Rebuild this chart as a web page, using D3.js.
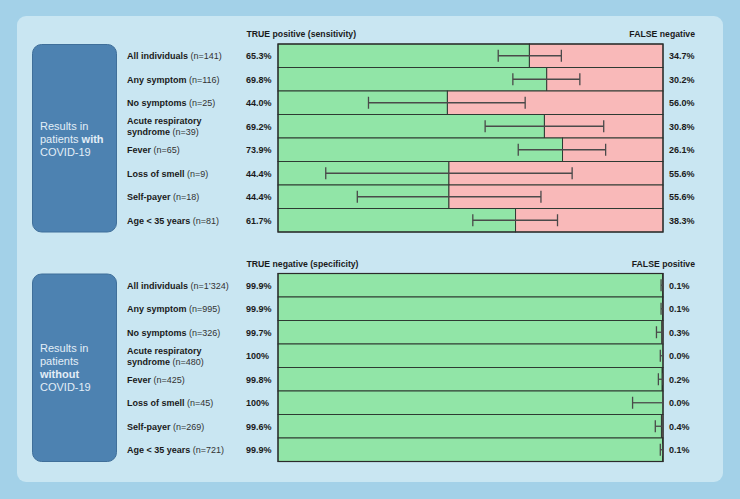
<!DOCTYPE html>
<html><head><meta charset="utf-8">
<script src="https://cdn.jsdelivr.net/npm/d3@7"></script>
<style>
html,body{margin:0;padding:0;background:#a3d1e8;}
svg{display:block;font-family:"Liberation Sans",Arial,Helvetica,sans-serif;}
</style></head>
<body><svg id="chart" width="740" height="499"></svg>
<script>
// ---- data ----
const categories = ["All individuals", "Any symptom", "No symptoms", "Acute respiratory syndrome", "Fever", "Loss of smell", "Self-payer", "Age < 35 years"];
const nWith = ["141", "116", "25", "39", "65", "9", "18", "81"];
const sensitivity = [65.3, 69.8, 44.0, 69.2, 73.9, 44.4, 44.4, 61.7];
const sensLow = [57.2, 61.0, 23.5, 53.8, 62.4, 12.4, 20.6, 50.6];
const sensHigh = [73.6, 78.4, 64.2, 84.6, 85.1, 76.4, 68.3, 72.6];
const falseNeg = ["34.7%", "30.2%", "56.0%", "30.8%", "26.1%", "55.6%", "55.6%", "38.3%"];
const sensLabels = ["65.3%", "69.8%", "44.0%", "69.2%", "73.9%", "44.4%", "44.4%", "61.7%"];

const nWithout = ["1\u2019324", "995", "326", "480", "425", "45", "269", "721"];
const specificity = [99.9, 99.9, 99.7, 100, 99.8, 100, 99.6, 99.9];
const specLow = [99.5, 99.5, 98.3, 99.3, 98.8, 92.1, 98.0, 99.3];
const specHigh = [100, 100, 100, 100, 100, 100, 99.9, 100];
const specLabels = ["99.9%", "99.9%", "99.7%", "100%", "99.8%", "100%", "99.6%", "99.9%"];
const falsePos = ["0.1%", "0.1%", "0.3%", "0.0%", "0.2%", "0.0%", "0.4%", "0.1%"];

const svg = d3.select("#chart");

// background panel
svg.append("rect").attr("x", 17).attr("y", 16).attr("width", 706).attr("height", 466)
  .attr("rx", 9).attr("fill", "#c9e6f2");

const x = d3.scaleLinear().domain([0, 100]).range([278, 663]);
const LABEL_FS = 9;

function drawSection(cfg) {
  const y = d3.scaleBand().domain(categories).range([cfg.top, cfg.top + 188]);
  const g = svg.append("g");

  // side box
  g.append("rect").attr("x", 32.5).attr("y", cfg.top + 0.5).attr("width", 84).attr("height", 187.5)
    .attr("rx", 9).attr("fill", "#4d82b1").attr("stroke", "#3f6f9a").attr("stroke-width", 1);
  cfg.boxLines.forEach((ln, i) => {
    const t = g.append("text").attr("x", 40).attr("y", cfg.boxY + i * 13)
      .attr("fill", "#e3eef7").attr("font-size", 11);
    ln.forEach(seg => t.append("tspan").attr("font-weight", seg[1] ? "bold" : "normal").text(seg[0]));
  });

  // headers
  g.append("text").attr("x", 246.5).attr("y", cfg.top - 7).attr("font-size", 8.7).attr("font-weight", "bold")
    .attr("fill", "#1a1a1a").text(cfg.leftHeader);
  g.append("text").attr("x", 695).attr("y", cfg.top - 7).attr("font-size", 8.7).attr("font-weight", "bold")
    .attr("text-anchor", "end").attr("fill", "#1a1a1a").text(cfg.rightHeader);

  categories.forEach((c, i) => {
    const y0 = y(c), h = y.bandwidth();
    const v = cfg.values[i];
    g.append("rect").attr("x", x(0)).attr("y", y0).attr("width", x(v) - x(0)).attr("height", h)
      .attr("fill", "#91e5a7").attr("stroke", "#2e3a33").attr("stroke-width", 1);
    if (v < 100) {
      g.append("rect").attr("x", x(v)).attr("y", y0).attr("width", x(100) - x(v)).attr("height", h)
        .attr("fill", "#f9b9b9").attr("stroke", "#2e3a33").attr("stroke-width", 1);
    }
  });
  g.append("rect").attr("x", x(0)).attr("y", cfg.top).attr("width", x(100) - x(0)).attr("height", 188)
    .attr("fill", "none").attr("stroke", "#2b2b2b").attr("stroke-width", 1.2);

  categories.forEach((c, i) => {
    const y0 = y(c), h = y.bandwidth(), cy = y0 + h / 2;
    const lo = x(cfg.low[i]), hi = x(cfg.high[i]);
    g.append("line").attr("x1", lo).attr("x2", hi).attr("y1", cy).attr("y2", cy)
      .attr("stroke", "#4a4a4a").attr("stroke-width", 1.3);
    [lo, hi].forEach(px => g.append("line").attr("x1", px).attr("x2", px).attr("y1", cy - 6).attr("y2", cy + 6)
      .attr("stroke", "#4a4a4a").attr("stroke-width", 1.3));

    const nStr = " (n=" + cfg.n[i] + ")";
    if (c === "Acute respiratory syndrome") {
      g.append("text").attr("x", 127).attr("y", cy - 1.8).attr("font-size", LABEL_FS)
        .attr("font-weight", "bold").attr("fill", "#1a1a1a").text("Acute respiratory");
      const t2 = g.append("text").attr("x", 127).attr("y", cy + 8.8).attr("font-size", LABEL_FS).attr("fill", "#1a1a1a");
      t2.append("tspan").attr("font-weight", "bold").text("syndrome");
      t2.append("tspan").attr("fill", "#333").text(nStr);
    } else {
      const lab = g.append("text").attr("x", 127).attr("y", cy + 3.3).attr("font-size", LABEL_FS).attr("fill", "#1a1a1a");
      lab.append("tspan").attr("font-weight", "bold").text(c);
      lab.append("tspan").attr("fill", "#333").text(nStr);
    }
    g.append("text").attr("x", 246).attr("y", cy + 3.3).attr("font-size", LABEL_FS).attr("font-weight", "bold")
      .attr("fill", "#1a1a1a").text(cfg.leftLabels[i]);
    g.append("text").attr("x", 669).attr("y", cy + 3.3).attr("font-size", LABEL_FS).attr("font-weight", "bold")
      .attr("fill", "#1a1a1a").text(cfg.rightLabels[i]);
  });
}

drawSection({
  top: 44, values: sensitivity, low: sensLow, high: sensHigh, n: nWith,
  leftLabels: sensLabels, rightLabels: falseNeg,
  leftHeader: "TRUE positive (sensitivity)", rightHeader: "FALSE negative",
  boxY: 129.5, boxLines: [[["Results in", false]], [["patients ", false], ["with", true]], [["COVID-19", false]]]
});
drawSection({
  top: 273.5, values: specificity, low: specLow, high: specHigh, n: nWithout,
  leftLabels: specLabels, rightLabels: falsePos,
  leftHeader: "TRUE negative (specificity)", rightHeader: "FALSE positive",
  boxY: 352, boxLines: [[["Results in", false]], [["patients", false]], [["without", true]], [["COVID-19", false]]]
});
</script></body></html>
